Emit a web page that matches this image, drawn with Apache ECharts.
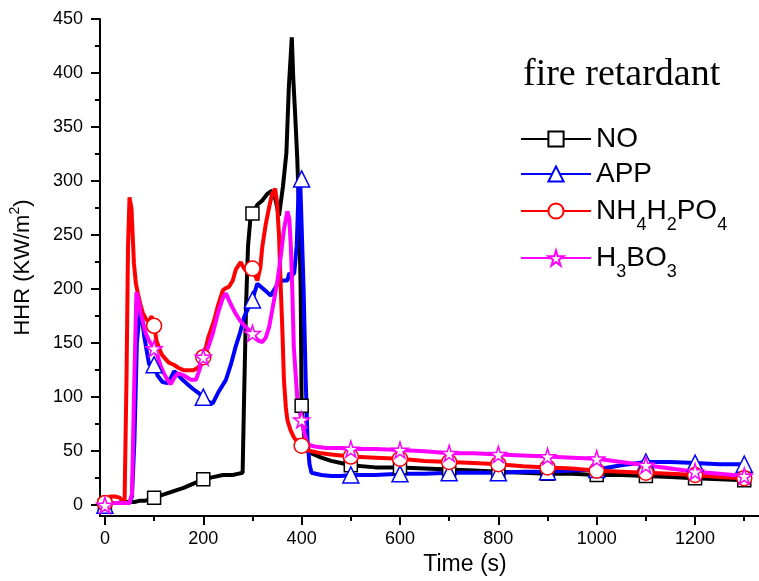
<!DOCTYPE html>
<html>
<head>
	<meta charset="utf-8">
	<title>HHR - fire retardant</title>
	<script src="https://cdn.jsdelivr.net/npm/echarts@6/dist/echarts.min.js"></script>
	<style>
		html, body { margin: 0; padding: 0; background: #fff; }
		#chart { width: 759px; height: 581px; }
	</style>
</head>
<body>
<div id="chart"></div>
<script>
	// 数据 (time in s, HHR in kW/m2)
	var noT = [0,10,20,30,40,50,60,70,80,90,100,120,140,160,180,200,220,240,260,270,280,283,287,291,296,300,310,320,330,340,346,354,362,369,374,380,383,387,391,395,398,400,406,412,420,440,460,480,500,550,600,650,700,750,800,850,900,950,1000,1050,1100,1150,1200,1250,1300];
	var noV = [0,2,2,2,3,3,3,4,4,5,7,10,13,16,20,24,26,28,28,29,30,100,185,240,266,270,278,282,288,291,284,268,295,326,387,433,395,360,322,270,200,92,60,50,48,44,41,39,37,35,35,34,33,32,31,30,29,29,28,28,27,26,25,24,23];

	var appT = [0,10,20,30,40,50,55,60,65,72,80,90,100,107,117,127,134,141,150,158,168,178,190,200,210,219,230,246,256,266,275,283,292,300,305,310,320,330,337,345,351,361,371,375,380,385,390,394,397,400,404,408,412,416,420,440,460,480,500,550,600,650,700,750,800,850,900,950,1000,1050,1100,1150,1200,1250,1300];
	var appV = [0,2,2,2,2,2,8,60,150,185,156,130,130,120,114,113,118,124,120,116,112,108,104,100,96,94,104,116,130,147,160,174,183,190,198,205,201,197,194,200,205,208,208,215,212,215,240,295,302,302,200,120,60,38,30,28,27,27,28,28,29,29,30,30,30,31,31,32,33,37,40,40,39,38,38];

	var nhT = [0,5,10,20,30,36,40,44,47,50,54,59,63,67,72,77,84,90,95,100,105,110,115,120,130,140,150,160,170,180,188,195,200,205,210,216,222,230,240,246,252,260,266,276,282,290,300,306,310,316,320,327,334,340,346,350,354,357,361,364,368,371,377,384,392,400,410,420,440,460,480,500,550,600,650,700,750,800,850,900,950,1000,1050,1100,1150,1200,1250,1300];
	var nhV = [2,6,8,8,7,3,5,120,240,285,275,224,205,196,186,178,172,170,175,166,152,146,140,137,132,130,127,125,125,125,127,130,137,145,155,163,171,185,199,201,202,208,218,225,220,215,219,212,208,220,239,260,276,288,293,280,250,208,160,116,90,79,70,63,58,55,51,50,48,47,46,45,44,43,41,40,39,38,36,35,34,32,31,30,29,28,26,25];

	var hbT = [0,10,20,30,40,50,55,59,64,68,73,78,83,90,100,107,114,120,127,134,141,148,155,161,168,175,185,192,200,210,220,230,240,246,256,266,276,286,300,310,320,327,334,342,351,358,364,371,375,378,381,384,388,391,395,400,405,411,420,430,450,480,500,550,600,650,700,750,800,850,900,950,1000,1050,1100,1150,1200,1250,1300];
	var hbV = [0,2,2,2,2,2,10,100,197,190,177,168,159,152,145,138,128,122,116,112,118,122,121,120,118,116,116,125,137,146,160,178,192,196,186,177,170,165,159,153,151,155,165,185,208,232,255,272,265,240,200,147,120,100,88,79,68,57,55,54,53,53,52,52,51,50,48,48,47,46,45,44,43,40,37,34,31,29,27];

	var xLabels = [0,200,400,600,800,1000,1200];
	var xMinor = [100,300,500,700,900,1100,1300];
	var yLabels = [0,50,100,150,200,250,300,350,400,450];
	var yMinor = [25,75,125,175,225,275,325,375,425];

	var starPath = 'path://M50,0 L61,35 L98,35 L68,57 L79,91 L50,70 L21,91 L32,57 L2,35 L39,35 Z';
	var font = 'Liberation Sans';

	// 下标
	var richNames = {
		'NO': '{m|NO}',
		'APP': '{m|APP}',
		'NH4H2PO4': '{m|NH}{s|4}{m|H}{s|2}{m|PO}{s|4}',
		'H3BO3': '{m|H}{s|3}{m|BO}{s|3}'
	};

	function makeData(t, v) {
		return t.map(function (x, i) {
			if (x % 100 === 0) return { value: [x, v[i]] };
			return { value: [x, v[i]], symbol: 'none' };
		});
	}

	function makeSeries(name, t, v, color, symbol, size) {
		return {
			name: name,
			type: 'line',
			xAxisIndex: 0,
			yAxisIndex: 0,
			data: makeData(t, v),
			symbol: symbol,
			symbolSize: size,
			showSymbol: true,
			showAllSymbol: true,
			lineStyle: { color: color, width: 4 },
			itemStyle: { color: '#fff', borderColor: color, borderWidth: 1.5 },
			emphasis: { disabled: true }
		};
	}

	function makeLegend(name, top) {
		return {
			data: [name],
			left: 520,
			top: top,
			padding: 0,
			itemWidth: 70,
			itemHeight: 19,
			selectedMode: false,
			formatter: function (n) { return richNames[n]; },
			textStyle: {
				color: '#000',
				fontFamily: font,
				rich: {
					m: { fontSize: 28, fontFamily: font, color: '#000' },
					s: { fontSize: 18, fontFamily: font, color: '#000', padding: [28, 0, 0, 0] }
				}
			}
		};
	}

	var myChart = echarts.init(document.getElementById('chart'));

	var axisCommon = {
		axisLine: { onZero: false, lineStyle: { color: '#000', width: 2 } },
		splitLine: { show: false }
	};

	var option = {
		animation: false,
		backgroundColor: '#fff',
		title: {
			text: 'fire retardant',
			left: 523,
			top: 56,
			padding: 0,
			textStyle: { fontFamily: 'Liberation Serif', fontSize: 38, fontWeight: 'normal', color: '#000' }
		},
		legend: [
			makeLegend('NO', 125),
			makeLegend('APP', 160),
			makeLegend('NH4H2PO4', 197),
			makeLegend('H3BO3', 244)
		],
		grid: { left: 100, right: 0, top: 19, bottom: 65 },
		xAxis: [
			{
				type: 'value',
				min: -10,
				max: 1330,
				name: 'Time (s)',
				nameLocation: 'middle',
				nameGap: 37,
				nameTextStyle: { fontFamily: font, fontSize: 23, color: '#000', padding: [0, 0, 0, 71] },
				axisLine: axisCommon.axisLine,
				splitLine: axisCommon.splitLine,
				axisTick: { show: true, length: 9, lineStyle: { color: '#000', width: 2 }, customValues: xLabels },
				axisLabel: {
					fontFamily: font, fontSize: 18, color: '#000', margin: 14, customValues: xLabels,
					formatter: function (v) { return String(v); }
				}
			},
			{
				type: 'value',
				min: -10,
				max: 1330,
				position: 'bottom',
				axisLine: { show: false, onZero: false },
				splitLine: { show: false },
				axisTick: { show: true, length: 5, lineStyle: { color: '#000', width: 2 }, customValues: xMinor },
				axisLabel: { show: false }
			}
		],
		yAxis: [
			{
				type: 'value',
				min: -10,
				max: 450,
				name: '{a|HHR (KW/m}{b|2}{a|)}',
				nameLocation: 'middle',
				nameGap: 62,
				nameTextStyle: {
					rich: {
						a: { fontFamily: font, fontSize: 22, color: '#000' },
						b: { fontFamily: font, fontSize: 14, color: '#000', padding: [0, 0, 16, 0] }
					}
				},
				axisLine: axisCommon.axisLine,
				splitLine: axisCommon.splitLine,
				axisTick: { show: true, length: 9, lineStyle: { color: '#000', width: 2 }, customValues: yLabels },
				axisLabel: { fontFamily: font, fontSize: 18, color: '#000', margin: 17, customValues: yLabels }
			},
			{
				type: 'value',
				min: -10,
				max: 450,
				position: 'left',
				axisLine: { show: false, onZero: false },
				splitLine: { show: false },
				axisTick: { show: true, length: 5, lineStyle: { color: '#000', width: 2 }, customValues: yMinor },
				axisLabel: { show: false }
			}
		],
		series: [
			makeSeries('NO', noT, noV, '#000000', 'rect', 13),
			makeSeries('APP', appT, appV, '#0000ff', 'triangle', 16),
			makeSeries('NH4H2PO4', nhT, nhV, '#ff0000', 'circle', 15),
			makeSeries('H3BO3', hbT, hbV, '#ff00ff', starPath, 16)
		]
	};

	myChart.setOption(option);
</script>
</body>
</html>
